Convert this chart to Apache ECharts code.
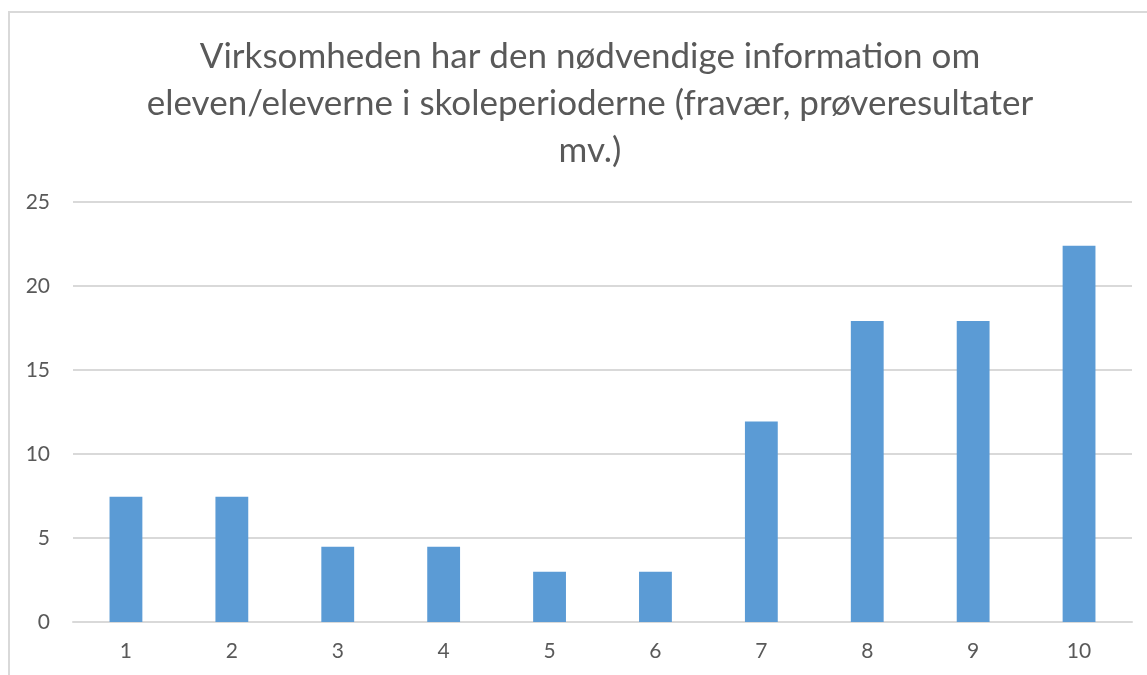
<!DOCTYPE html>
<html>
<head>
<meta charset="utf-8">
<script src="https://cdn.jsdelivr.net/npm/echarts@6/dist/echarts.min.js"></script>
<style>
  html, body { margin: 0; padding: 0; background: #fff; }
  #chart { width: 1147px; height: 675px; }
</style>
</head>
<body>
<div id="chart"></div>
<script>
// scores 1-10 and the share (%) of answers for each
const categories = ['1', '2', '3', '4', '5', '6', '7', '8', '9', '10'];
const shares = [7.46, 7.46, 4.48, 4.48, 2.99, 2.99, 11.94, 17.91, 17.91, 22.39];
const yTicks = [0, 5, 10, 15, 20, 25];
const titleText = 'Virksomheden har den nødvendige information om\neleven/eleverne i skoleperioderne (fravær, prøveresultater\nmv.)';

const chart = echarts.init(document.getElementById('chart'));

chart.setOption({
  animation: false,
  textStyle: { fontFamily: 'Lato' },
  graphic: [
    {
      type: 'rect',
      shape: { x: 9, y: 12, width: 1160, height: 700 },
      style: { fill: 'none', stroke: '#d9d9d9', lineWidth: 2 },
      silent: true
    }
  ],
  title: {
    text: titleText,
    left: 585,
    top: 28,
    textAlign: 'center',
    textStyle: {
      fontFamily: 'Lato',
      fontWeight: 'normal',
      fontSize: 35,
      lineHeight: 47,
      color: '#595959'
    }
  },
  grid: {
    left: 73,
    right: 15,
    top: 202,
    bottom: 53
  },
  xAxis: {
    type: 'category',
    data: categories,
    axisLine: { lineStyle: { color: '#d9d9d9', width: 2 } },
    axisTick: { show: false },
    axisLabel: { color: '#595959', fontSize: 21, margin: 19 }
  },
  yAxis: {
    type: 'value',
    min: yTicks[0],
    max: yTicks[yTicks.length - 1],
    interval: 5,
    axisLine: { show: false },
    axisTick: { show: false },
    splitLine: { lineStyle: { color: '#d9d9d9', width: 2 } },
    axisLabel: { color: '#595959', fontSize: 21, margin: 23 }
  },
  series: [
    {
      type: 'bar',
      data: shares,
      barWidth: '31%',
      itemStyle: { color: '#5b9bd5' }
    }
  ]
});
</script>
</body>
</html>
